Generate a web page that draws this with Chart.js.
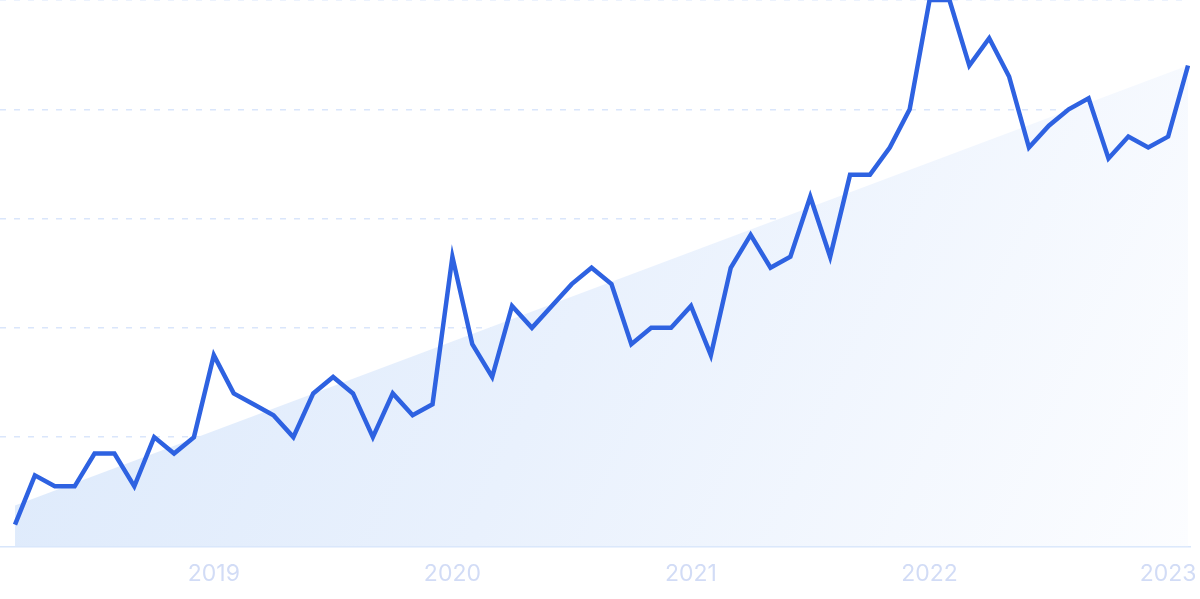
<!DOCTYPE html>
<html>
<head>
<meta charset="utf-8">
<script src="https://cdn.jsdelivr.net/npm/chart.js@4"></script>
<style>
  html, body { margin: 0; padding: 0; background: #fff; }
  #wrap { width: 1200px; height: 599px; }
</style>
</head>
<body>
<div id="wrap"><canvas id="trendChart"></canvas></div>
<script>
// monthly search interest, Mar 2018 .. Feb 2023
const months = [
  'Mar 2018','Apr 2018','May 2018','Jun 2018','Jul 2018','Aug 2018','Sep 2018','Oct 2018','Nov 2018','Dec 2018',
  'Jan 2019','Feb 2019','Mar 2019','Apr 2019','May 2019','Jun 2019','Jul 2019','Aug 2019','Sep 2019','Oct 2019','Nov 2019','Dec 2019',
  'Jan 2020','Feb 2020','Mar 2020','Apr 2020','May 2020','Jun 2020','Jul 2020','Aug 2020','Sep 2020','Oct 2020','Nov 2020','Dec 2020',
  'Jan 2021','Feb 2021','Mar 2021','Apr 2021','May 2021','Jun 2021','Jul 2021','Aug 2021','Sep 2021','Oct 2021','Nov 2021','Dec 2021',
  'Jan 2022','Feb 2022','Mar 2022','Apr 2022','May 2022','Jun 2022','Jul 2022','Aug 2022','Sep 2022','Oct 2022','Nov 2022','Dec 2022',
  'Jan 2023','Feb 2023'
];
const interest = [
  4, 13, 11, 11, 17, 17, 11, 20, 17, 20,
  35, 28, 26, 24, 20, 28, 31, 28, 20, 28, 24, 26,
  53, 37, 31, 44, 40, 44, 48, 51, 48, 37, 40, 40,
  44, 35, 51, 57, 51, 53, 64, 53, 68, 68, 73, 80,
  100, 100, 88, 93, 86, 73, 77, 80, 82, 71, 75, 73,
  75, 88
];
// straight trend line, start and end value
const trend = [7.5, 88];

const tickLabels = ['2019', '2020', '2021', '2022', '2023'];
const tickMonths = ['Jan 2019', 'Jan 2020', 'Jan 2021', 'Jan 2022', 'Jan 2023'];
const tickIndex = tickMonths.map(m => months.indexOf(m));

const seriesPoints = interest.map((v, i) => ({ x: i, y: v }));
const trendPoints = [
  { x: 0, y: trend[0] },
  { x: months.length - 1, y: trend[1] }
];

function trendFill(ctx) {
  const area = ctx.chart.chartArea;
  if (!area) return 'rgba(226,237,251,1)';
  const g = ctx.chart.ctx.createLinearGradient(area.left, area.top, area.right, area.bottom);
  g.addColorStop(0, 'rgba(218,232,251,1)');
  g.addColorStop(0.5, 'rgba(233,241,253,1)');
  g.addColorStop(1, 'rgba(252,253,255,1)');
  return g;
}

new Chart(document.getElementById('trendChart'), {
  type: 'line',
  data: {
    datasets: [
      {
        label: 'Interest',
        data: seriesPoints,
        borderColor: '#2e62e1',
        borderWidth: 4.5,
        pointRadius: 0,
        tension: 0,
        fill: false,
        order: 0
      },
      {
        label: 'Trend',
        data: trendPoints,
        borderWidth: 0,
        borderColor: 'rgba(0,0,0,0)',
        backgroundColor: trendFill,
        pointRadius: 0,
        fill: 'origin',
        order: 1
      }
    ]
  },
  options: {
    responsive: true,
    maintainAspectRatio: false,
    animation: false,
    layout: { padding: { left: 0, right: 10, top: 0, bottom: -3 } },
    plugins: { legend: { display: false }, tooltip: { enabled: false } },
    scales: {
      x: {
        type: 'linear',
        min: -0.755,
        max: 59.1,
        afterBuildTicks: axis => { axis.ticks = tickIndex.map(v => ({ value: v })); },
        // labels may hang past the plot edge, as in the original
        afterFit: axis => { axis.paddingLeft = 0; axis.paddingRight = 0; },
        grid: { display: false, drawTicks: false },
        border: { display: true, color: '#d8e6fb', width: 1.5 },
        ticks: {
          autoSkip: false,
          maxRotation: 0,
          padding: 14,
          color: '#d2dcf6',
          font: { family: 'Inter', size: 23 },
          callback: value => tickLabels[tickIndex.indexOf(value)] || ''
        }
      },
      y: {
        min: 0,
        max: 100,
        ticks: { display: false, stepSize: 20 },
        border: { display: false, dash: [6, 8] },
        grid: {
          drawTicks: false,
          color: c => c.tick.value === 0 ? 'rgba(0,0,0,0)' : '#dae6fb',
          lineWidth: 1.5
        }
      }
    }
  }
});
</script>
</body>
</html>
